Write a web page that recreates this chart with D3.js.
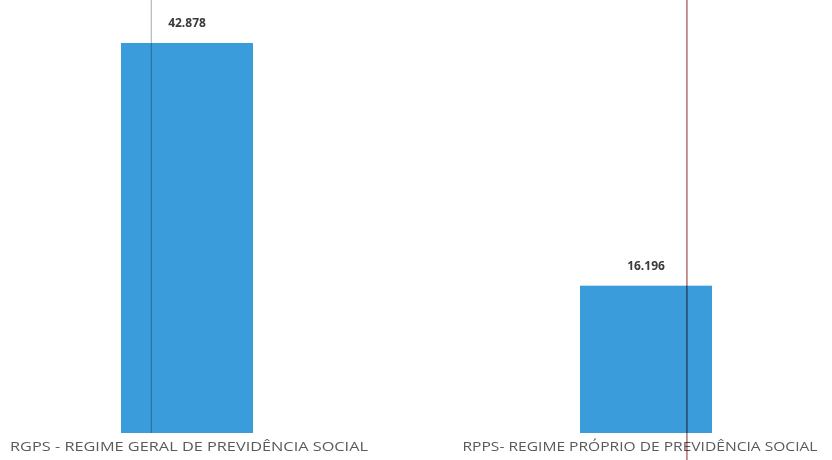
<!DOCTYPE html>
<html><head><meta charset="utf-8">
<script src="https://cdn.jsdelivr.net/npm/d3@7"></script>
<style>
html,body{margin:0;padding:0;background:#fff;}
svg{display:block;}
</style></head>
<body>
<svg id="c" width="832" height="460"></svg>
<script>
const categories = ["RGPS - REGIME GERAL DE PREVIDÊNCIA SOCIAL", "RPPS- REGIME PRÓPRIO DE PREVIDÊNCIA SOCIAL"];
const values = [42878, 16196];
const valueLabels = ["42.878", "16.196"];

const W = 832, H = 460;
const svg = d3.select("#c");

const x = d3.scaleBand().domain(categories).range([121, 712]).paddingInner(0.7124).paddingOuter(0);
const y = d3.scaleLinear().domain([0, 42878]).range([433, 43]);

// bars
svg.selectAll("rect.bar").data(values).join("rect")
  .attr("class","bar")
  .attr("x",(d,i)=>x(categories[i]))
  .attr("y",d=>y(d))
  .attr("width",x.bandwidth())
  .attr("height",d=>y(0)-y(d))
  .attr("fill","#3a9cdb");

// value labels
svg.selectAll("text.val").data(values).join("text")
  .attr("class","val")
  .attr("x",(d,i)=>x(categories[i])+x.bandwidth()/2)
  .attr("y",d=>y(d)-16)
  .attr("text-anchor","middle")
  .attr("font-family","'Open Sans', sans-serif")
  .attr("font-size",12)
  .attr("font-weight","bold")
  .attr("fill","#3a3a3a")
  .text((d,i)=>valueLabels[i]);

// category axis labels
const axis = d3.axisBottom(x).tickSize(0).tickPadding(9);
const g = svg.append("g").attr("transform",`translate(0,${y(0)})`).call(axis);
g.select(".domain").remove();
g.selectAll("text")
  .attr("font-family","'Open Sans', sans-serif")
  .attr("font-size",13)
  .attr("fill","#5a5a5a")
  .attr("dx",(d,i)=>i===0?2:-6)
  .attr("textLength",(d,i)=>i===0?358:355)
  .attr("lengthAdjust","spacingAndGlyphs");

// scan artefact lines crossing the bars
const guideFrac = [0.23, 0.81];
const guideColor = ["#bcbcc4", "#a55a5a"];
const guideEnd = [y(0), H];
svg.selectAll("line.guide").data(guideFrac).join("line")
  .attr("class","guide")
  .attr("x1",(f,i)=>x(categories[i])+x.bandwidth()*f)
  .attr("x2",(f,i)=>x(categories[i])+x.bandwidth()*f)
  .attr("y1",0)
  .attr("y2",(f,i)=>guideEnd[i])
  .attr("stroke",(f,i)=>guideColor[i])
  .attr("stroke-width",1.3)
  .style("mix-blend-mode","multiply");
</script>
</body></html>
